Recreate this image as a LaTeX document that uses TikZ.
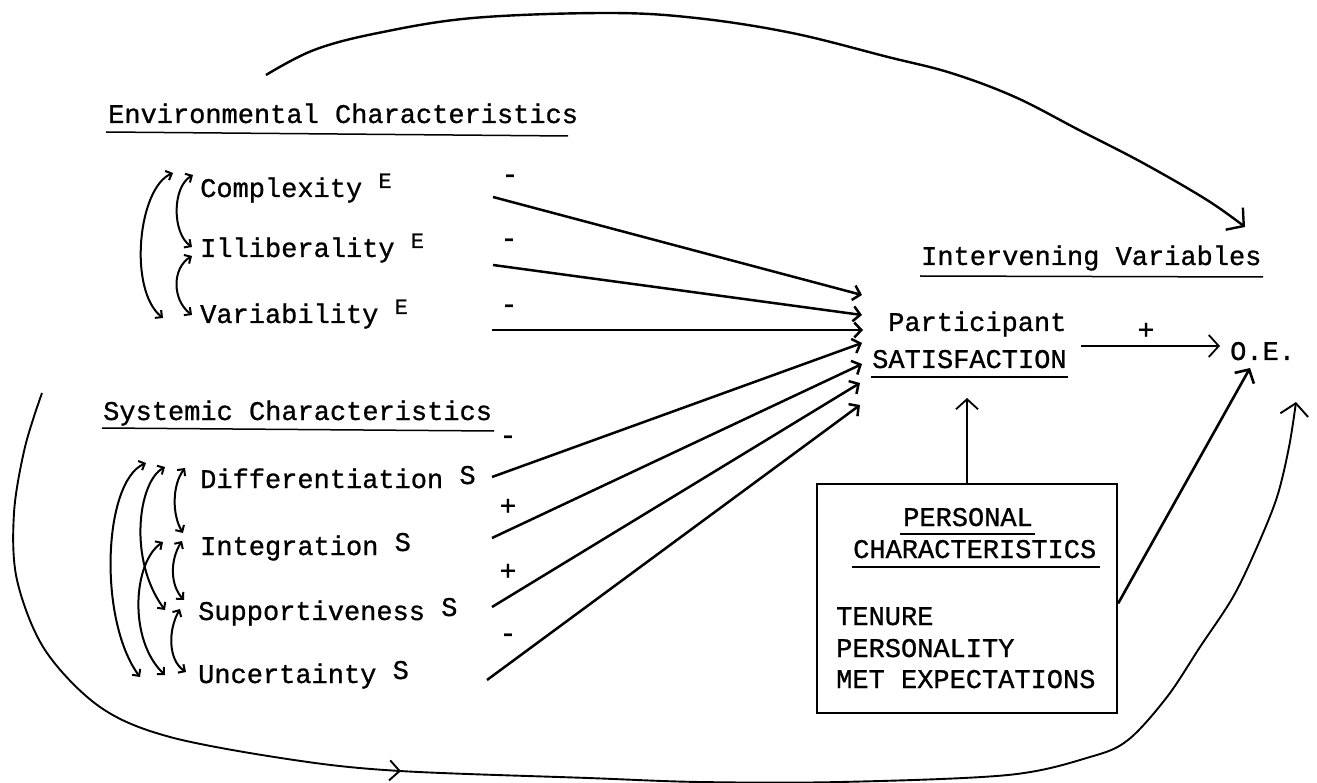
\documentclass[tikz,border=0pt]{standalone}
\usepackage{fontspec}
\setmainfont{Liberation Mono}[BoldFont=Liberation Mono, BoldFeatures={FakeBold=0.9}]
\usetikzlibrary{arrows.meta,decorations.markings}
\begin{document}
\begin{tikzpicture}[x=1pt,y=-1pt,
  txt/.style={font=\fontsize{27}{32}\selectfont\bfseries, inner sep=0pt, anchor=base west},
  sgn/.style={font=\fontsize{28}{32}\selectfont\bfseries, inner sep=0pt},
  ul/.style={line width=1.5pt},
  arr/.style={line width=2.5pt, -{Straight Barb[length=7pt,width=15pt]}},
  thinarr/.style={line width=1.8pt, -{Straight Barb[length=10pt,width=22pt]}},
  dbl/.style={line width=2pt, {Straight Barb[length=5pt,width=10pt]}-{Straight Barb[length=5pt,width=10pt]}},
  big/.style={line width=2.6pt, -{Straight Barb[length=10pt,width=22pt]}},
  curve/.style={line width=1.9pt, -{Straight Barb[length=12pt,width=28pt]}},
  boxst/.style={draw, line width=2.2pt, minimum width=300pt, minimum height=229pt, inner sep=0pt},
]
\newcommand{\supE}{\raisebox{9pt}{\fontsize{22}{24}\selectfont E}}
\newcommand{\supS}{\raisebox{4pt}{S}}
\useasboundingbox (0,0) rectangle (1317,783);

% headers
\node[txt] (envh) at (108,123) {Environmental Characteristics};
\draw[ul] (106,132) -- (568,136);
\node[txt] (sysh) at (103,420) {Systemic Characteristics};
\draw[ul] (102,428) -- (494,431);

% environmental items
\node[txt] (cx) at (200,197) {Complexity \supE};
\node[txt] (il) at (200,257) {Illiberality \supE};
\node[txt] (va) at (200,323) {Variability \supE};

% systemic items
\node[txt] (di) at (200,488) {Differentiation \supS};
\node[txt] (in) at (200,555) {Integration \supS};
\node[txt] (su) at (198,620) {Supportiveness \supS};
\node[txt] (un) at (198,683) {Uncertainty \supS};

% signs
\node[sgn] (s1) at (510,179) {-};
\node[sgn] (s2) at (509,243) {-};
\node[sgn] (s3) at (509,309) {-};
\node[sgn] (s4) at (508,440) {-};
\node[sgn] (s5) at (508,507) {+};
\node[sgn] (s6) at (508,572) {+};
\node[sgn] (s7) at (508,638) {-};

% intervening
\node[txt] (ivh) at (921,265) {Intervening Variables};
\draw[ul] (920,276) -- (1263,277);
\node[txt] (par) at (888,331) {Participant};
\node[txt] (sat) at (872,368) {SATISFACTION};
\draw[ul] (871,377) -- (1068,377);
\node[txt] (oe) at (1230,360) {O.E.};
\node[sgn] (plus) at (1146,331) {+};

% personal box
\node[boxst] (box) at (967,598.5) {};
\node[txt] (pers) at (903,526) {PERSONAL};
\draw[ul] (900,534) -- (1035,534);
\node[txt] (pchar) at (853,558) {CHARACTERISTICS};
\draw[ul] (852,567) -- (1100,567);
\node[txt] (ten) at (836,625) {TENURE};
\node[txt] (pty) at (836,657) {PERSONALITY};
\node[txt] (met) at (836,688) {MET EXPECTATIONS};

% arrow end points
\coordinate (cxo) at (493,197);  \coordinate (cxi) at (862,295);
\coordinate (ilo) at (493,265);  \coordinate (ili) at (862,315);
\coordinate (vao) at (492,330);  \coordinate (vai) at (863,330);
\coordinate (dio) at (492,477);  \coordinate (dii) at (862,343);
\coordinate (ino) at (492,538);  \coordinate (ini) at (862,364);
\coordinate (suo) at (492,607);  \coordinate (sui) at (860,383);
\coordinate (uno) at (487,680);  \coordinate (uni) at (860,405);
\coordinate (sato) at (1081,346); \coordinate (oei) at (1220,346);
\coordinate (sati) at (967,398);
\coordinate (oeb) at (1250,368);

\draw[arr] (cxo) -- (cxi);
\draw[arr] (ilo) -- (ili);
\draw[arr] (vao) -- (vai);
\draw[arr] (dio) -- (dii);
\draw[arr] (ino) -- (ini);
\draw[arr] (suo) -- (sui);
\draw[arr] (uno) -- (uni);
\draw[thinarr] (sato) -- (oei);
\draw[thinarr] (box.north) -- (sati);
\draw[big] ([yshift=-5pt]box.east) -- (oeb);

% correlation arrows, environmental
\draw[dbl] (173,173) .. controls (138,188) and (128,290) .. (163,318);
\draw[dbl] (193,175) .. controls (172,187) and (172,233) .. (192,247);
\draw[dbl] (192,256) .. controls (172,268) and (172,300) .. (192,315);

% correlation arrows, systemic
\draw[dbl] (185,468) .. controls (172,485) and (172,515) .. (183,533);
\draw[dbl] (182,541) .. controls (170,560) and (170,585) .. (184,600);
\draw[dbl] (180,609) .. controls (168,630) and (168,660) .. (186,672);
\draw[dbl] (165,467) .. controls (138,482) and (128,560) .. (165,610);
\draw[dbl] (163,542) .. controls (133,562) and (128,640) .. (165,675);
\draw[dbl] (146,463) .. controls (103,482) and (98,620) .. (140,677);

% top curve
\draw[curve, line width=2.4pt] plot[smooth, tension=0.6] coordinates {(266,75) (314,50) (378,33) (473,18) (607,13) (696,18) (792,33) (888,57) (951,73) (1015,97) (1079,130) (1143,163) (1207,200) (1245,227)};

% bottom curve
\draw[curve, postaction={decorate}, decoration={markings, mark=at position 0.37 with {\arrow{Straight Barb[length=10pt,width=20pt]}}}]
  plot[smooth, tension=0.55] coordinates {(42,393) (25,447) (14,513) (17,580) (45,650) (100,707) (170,737) (294,760) (400,771) (588,778) (700,782) (840,782) (1008,775) (1090,757) (1128,740) (1167,697) (1200,647) (1233,597) (1257,547) (1277,497) (1289,447) (1296,402)};
\end{tikzpicture}
\end{document}
